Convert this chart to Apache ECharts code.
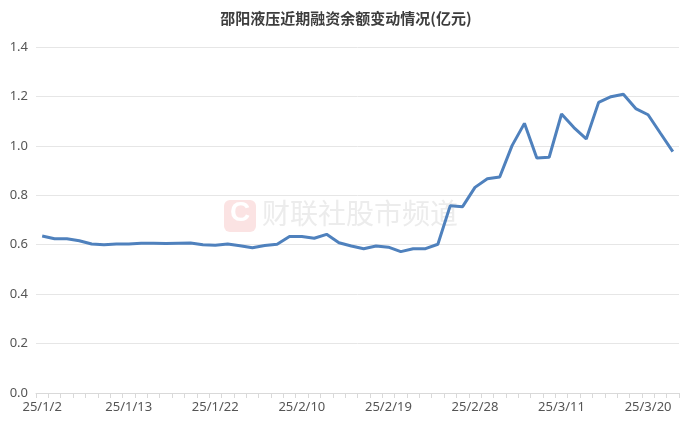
<!DOCTYPE html>
<html>
<head>
<meta charset="utf-8">
<script src="https://cdn.jsdelivr.net/npm/echarts@6/dist/echarts.min.js"></script>
<style>html,body{margin:0;padding:0;background:#fff;}#c{width:692px;height:430px;}</style>
</head>
<body>
<div id="c"></div>
<script>
const titleText = '邵阳液压近期融资余额变动情况(亿元)';
const dates = ['25/1/2','25/1/3','25/1/6','25/1/7','25/1/8','25/1/9','25/1/10','25/1/13','25/1/14','25/1/15','25/1/16','25/1/17','25/1/20','25/1/21','25/1/22','25/1/23','25/1/24','25/1/27','25/2/5','25/2/6','25/2/7','25/2/10','25/2/11','25/2/12','25/2/13','25/2/14','25/2/17','25/2/18','25/2/19','25/2/20','25/2/21','25/2/24','25/2/25','25/2/26','25/2/27','25/2/28','25/3/3','25/3/4','25/3/5','25/3/6','25/3/7','25/3/10','25/3/11','25/3/12','25/3/13','25/3/14','25/3/17','25/3/18','25/3/19','25/3/20','25/3/21','25/3/24'];
const balance = [0.635,0.624,0.624,0.616,0.603,0.600,0.603,0.603,0.606,0.606,0.605,0.606,0.607,0.600,0.598,0.603,0.596,0.588,0.597,0.602,0.633,0.633,0.626,0.642,0.608,0.595,0.584,0.595,0.590,0.572,0.584,0.584,0.602,0.758,0.754,0.832,0.867,0.874,1.001,1.091,0.951,0.954,1.129,1.074,1.028,1.176,1.199,1.209,1.151,1.126,1.051,0.977];
const watermark = '财联社股市频道';

const chart = echarts.init(document.getElementById('c'));
chart.setOption({
  animation: false,
  title: {
    text: titleText, left: 'center', top: 6,
    textStyle: {fontSize: 15, fontWeight: 'bold', color: '#3d3d3d', fontFamily: 'Noto Sans CJK SC'}
  },
  graphic: [
    {type: 'rect', left: 224, top: 200, shape: {width: 32, height: 32, r: 6}, style: {fill: '#fbe3e3'}, z: 0},
    {type: 'text', left: 230, top: 199, style: {text: 'C', fontSize: 28, fontWeight: 'bold', fill: '#ffffff', fontFamily: 'Liberation Sans'}, z: 0},
    {type: 'text', left: 262, top: 199, style: {text: watermark, fontSize: 28, fill: '#ececec', fontFamily: 'Noto Sans CJK SC'}, z: 0}
  ],
  grid: {left: 36, right: 13, top: 47, bottom: 37},
  xAxis: {
    type: 'category', data: dates, boundaryGap: true,
    axisLine: {lineStyle: {color: '#d9d9d9'}},
    axisTick: {show: true, interval: 0, lineStyle: {color: '#d9d9d9'}},
    axisLabel: {interval: 6, color: '#555', fontSize: 13, margin: 8, fontFamily: 'Noto Sans'}
  },
  yAxis: {
    type: 'value', min: 0, max: 1.4, interval: 0.2,
    axisLine: {show: false}, axisTick: {show: false},
    splitLine: {lineStyle: {color: '#e6e6e6'}},
    axisLabel: {color: '#555', fontSize: 13, margin: 8, fontFamily: 'Noto Sans', formatter: v => v.toFixed(1)}
  },
  series: [{
    type: 'line', data: balance, showSymbol: false, symbol: 'none',
    lineStyle: {color: '#4f81bd', width: 3},
    itemStyle: {color: '#4f81bd'}, z: 3
  }]
});
</script>
</body>
</html>
